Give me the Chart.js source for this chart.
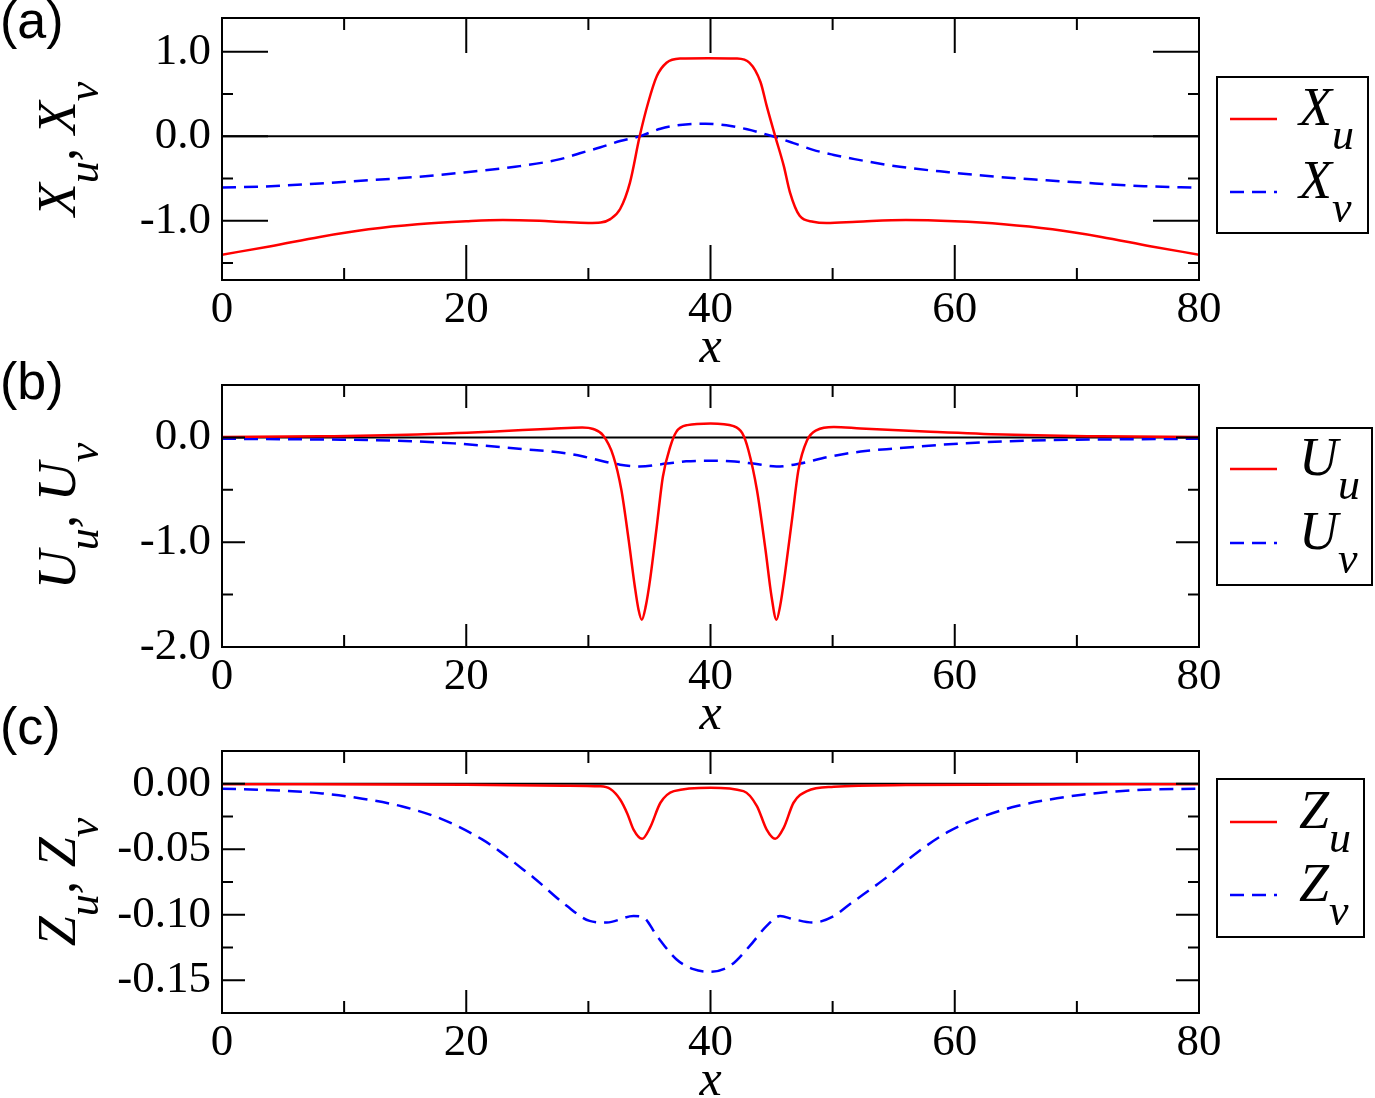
<!DOCTYPE html>
<html>
<head>
<meta charset="utf-8">
<script src="https://cdn.jsdelivr.net/npm/chart.js@4.4.1/dist/chart.umd.min.js"></script>
<style>
  body { margin: 0; background: #fff; }
  #wrap { position: relative; width: 1375px; height: 1098px; overflow: hidden; }
  canvas { position: absolute; left: 0; }
  .tag { position: absolute; left: 0; font: 52px "Liberation Sans", Arial, sans-serif; color: #000; line-height: 1; }
</style>
</head>
<body>
<div id="wrap">
  <div class="tag" style="top:-6px">(a)</div>
  <div class="tag" style="top:355px">(b)</div>
  <div class="tag" style="top:700px">(c)</div>
  <canvas id="panelA" width="1375" height="365" style="top:0px"></canvas>
  <canvas id="panelB" width="1375" height="365" style="top:367px"></canvas>
  <canvas id="panelC" width="1375" height="365" style="top:733px"></canvas>
</div>
<script>
// eje x común
const xTicks = [0, 20, 40, 60, 80];
const xMinor = [10, 30, 50, 70];
const zeroX = [0, 80];
const zeroY = [0, 0];

// (a) X_u, X_v
const xPosXu = [0, 4, 8, 12, 16, 20, 23, 26, 28, 30, 31, 31.8, 32.6, 33.4, 34.2, 34.9, 35.6, 36.4, 37.5, 39.8,
                42.1, 43.2, 44.1, 44.6, 45.3, 46.0, 46.5, 47.3, 48.4, 49.5, 52, 56, 60, 64, 68, 72, 76, 80];
const valXu  = [-1.40, -1.30, -1.19, -1.10, -1.04, -1.005, -0.99, -1.00, -1.015, -1.025, -1.02, -0.98, -0.86, -0.55, 0.0, 0.40, 0.71, 0.87, 0.92, 0.925,
                0.92, 0.87, 0.64, 0.36, 0.0, -0.35, -0.66, -0.94, -1.01, -1.025, -1.01, -0.99, -1.005, -1.04, -1.10, -1.19, -1.30, -1.40];
const xPosXv = [0, 4, 8, 12, 16, 20, 24, 27.7, 29.3, 31, 32.6, 34.2, 35.9, 37.5, 39.6, 41.3, 43, 45.1,
                46.8, 48.4, 50.1, 51.8, 55.5, 59.5, 63.5, 67.5, 71.5, 75.5, 80];
const valXv  = [-0.607, -0.59, -0.557, -0.52, -0.48, -0.425, -0.36, -0.27, -0.20, -0.13, -0.056, 0.0, 0.09, 0.134, 0.15, 0.13, 0.083, 0.0,
                -0.08, -0.16, -0.22, -0.27, -0.36, -0.425, -0.48, -0.52, -0.557, -0.59, -0.607];
const yTicksA = [-1, 0, 1];
const yMinorA = [-1.5, -0.5, 0.5];

// (b) U_u, U_v
const xPosUu = [0, 8, 16, 22, 27, 29.5, 30.4, 31.2, 32.05, 32.7, 33.3, 33.8, 34.1, 34.37, 34.7, 35.05, 35.6, 36.1, 36.7, 37.2, 38.1, 40.0,
                41.9, 42.6, 43.1, 43.8, 44.5, 45.0, 45.4, 45.7, 46.1, 46.7, 47.2, 47.9, 48.7, 50.1, 52.3, 58, 64, 72, 80];
const valUu  = [0.005, 0.01, 0.028, 0.055, 0.083, 0.095, 0.08, 0.02, -0.18, -0.50, -0.98, -1.42, -1.64, -1.74, -1.61, -1.36, -0.85, -0.375, -0.09, 0.053, 0.117, 0.133,
                0.107, 0.04, -0.12, -0.50, -1.07, -1.52, -1.74, -1.61, -1.30, -0.76, -0.31, -0.03, 0.07, 0.10, 0.086, 0.055, 0.028, 0.01, 0.005];
const xPosUv = [0, 8, 14, 19, 24.6, 27.7, 29.5, 30.4, 32.6, 34.2, 36.4, 38, 40, 42, 43.5, 45.4, 47.3, 49.5, 52.3, 55.2, 60.6, 66, 72, 80];
const valUv  = [-0.013, -0.02, -0.03, -0.057, -0.112, -0.145, -0.18, -0.205, -0.26, -0.278, -0.25, -0.228, -0.223, -0.23, -0.25, -0.278, -0.25, -0.19, -0.135, -0.105, -0.057, -0.03, -0.02, -0.013];
const yTicksB = [-2, -1, 0];
const yMinorB = [-1.5, -0.5];

// (c) Z_u, Z_v
const xPosZu = [0, 20, 28, 31.0, 31.8, 32.6, 33.2, 33.7, 34.4, 35.05, 35.9, 37.0, 40,
                42.7, 43.8, 44.6, 45.3, 46.0, 46.8, 47.9, 50.1, 56, 80];
const valZu  = [-0.0003, -0.0008, -0.0015, -0.002, -0.004, -0.012, -0.023, -0.035, -0.042, -0.0335, -0.0145, -0.0056, -0.003,
                -0.0056, -0.017, -0.035, -0.042, -0.0335, -0.0145, -0.0056, -0.0023, -0.001, -0.0003];
const xPosZv = [0, 4.1, 8.2, 11.5, 14.7, 18, 21.3, 22.8, 24.6, 25.5, 28.2, 30.1, 31.5, 33.7, 34.5, 35.6, 37.2, 38.6, 40, 41.6, 43.2,
                44.6, 45.7, 46.8, 48.4, 50.1, 51.4, 54.2, 56.9, 59.6, 62.4, 65.1, 67.8, 70.6, 74.7, 80];
const valZv  = [-0.0038, -0.0049, -0.0074, -0.0114, -0.0172, -0.027, -0.0425, -0.052, -0.065, -0.0715, -0.093, -0.1047, -0.106, -0.101, -0.102, -0.116, -0.134, -0.1415, -0.1435, -0.139, -0.124,
                -0.1085, -0.101, -0.1034, -0.106, -0.101, -0.092, -0.073, -0.0526, -0.036, -0.0247, -0.017, -0.012, -0.0082, -0.0049, -0.0038];
const yTicksC = [-0.15, -0.10, -0.05, 0];
const yMinorC = [-0.175, -0.125, -0.075, -0.025];

const SERIF = '"Liberation Serif", serif';
Chart.defaults.font.family = SERIF;
Chart.defaults.color = '#000';

function pts(xs, ys) {
    return xs.map((v, i) => ({ x: v, y: ys[i] }));
}

// marco, marcas hacia dentro, títulos con subíndices y leyenda
const xmgrace = {
    id: 'xmgrace',
    afterDraw(chart, args, o) {
        const { ctx, chartArea: a, scales: { x, y } } = chart;
        ctx.save();
        ctx.strokeStyle = '#000';
        ctx.lineWidth = 2;
        ctx.setLineDash([]);
        ctx.strokeRect(a.left, a.top, a.right - a.left, a.bottom - a.top);

        ctx.beginPath();
        const vTick = (v, len) => {
            const p = x.getPixelForValue(v);
            ctx.moveTo(p, a.bottom); ctx.lineTo(p, a.bottom - len);
            ctx.moveTo(p, a.top); ctx.lineTo(p, a.top + len);
        };
        const hTick = (v, len) => {
            const p = y.getPixelForValue(v);
            ctx.moveTo(a.left, p); ctx.lineTo(a.left + len, p);
            ctx.moveTo(a.right, p); ctx.lineTo(a.right - len, p);
        };
        xTicks.forEach(v => vTick(v, o.majorX));
        xMinor.forEach(v => vTick(v, 12));
        o.yTicks.forEach(v => hTick(v, o.majorY));
        o.yMinor.forEach(v => hTick(v, 11));
        ctx.stroke();

        ctx.fillStyle = '#000';
        // título eje x
        ctx.font = 'italic 50px ' + SERIF;
        ctx.textAlign = 'center';
        ctx.textBaseline = 'alphabetic';
        ctx.fillText('x', x.getPixelForValue(40), 362);

        // título eje y (girado)
        const L = o.letter;
        const parts = [[L, 0, 54], ['u', 23, 44], [', ', 0, 54], [L, 0, 54], ['v', 23, 44]];
        ctx.textAlign = 'left';
        let total = 0;
        parts.forEach(p => { ctx.font = 'italic ' + p[2] + 'px ' + SERIF; total += ctx.measureText(p[0]).width; });
        ctx.translate(75, (a.top + a.bottom) / 2);
        ctx.rotate(-Math.PI / 2);
        let cx = -total / 2;
        parts.forEach(p => {
            ctx.font = 'italic ' + p[2] + 'px ' + SERIF;
            ctx.fillText(p[0], cx, p[1]);
            cx += ctx.measureText(p[0]).width;
        });
        ctx.setTransform(1, 0, 0, 1, 0, 0);

        // leyenda
        const b = o.box;
        ctx.lineWidth = 2;
        ctx.strokeRect(b.left, b.top, b.width, b.height);
        const entries = [['u', '#ff0000', []], ['v', '#0000ff', [14, 8]]];
        entries.forEach((e, i) => {
            const ly = b.top + b.rows[i];
            ctx.strokeStyle = e[1];
            ctx.lineWidth = 2.5;
            ctx.setLineDash(e[2]);
            ctx.beginPath();
            ctx.moveTo(b.left + 13, ly);
            ctx.lineTo(b.left + 60, ly);
            ctx.stroke();
            ctx.setLineDash([]);
            ctx.font = 'italic 54px ' + SERIF;
            ctx.fillText(L, b.left + 82, ly + 6);
            const w = ctx.measureText(L).width;
            ctx.font = 'italic 44px ' + SERIF;
            ctx.fillText(e[0], b.left + 82 + w, ly + 30);
        });
        ctx.restore();
    }
};

function crearPanel(id, s1, s2, yMin, yMax, yTicks, yMinor, dec, opts) {
    const ctx = document.getElementById(id);
    return new Chart(ctx, {
        type: 'line',
        data: {
            datasets: [{
                data: s1,
                borderColor: '#ff0000',
                borderWidth: 2.5,
                pointRadius: 0,
                cubicInterpolationMode: 'monotone'
            }, {
                data: s2,
                borderColor: '#0000ff',
                borderWidth: 2.5,
                borderDash: [14, 8],
                pointRadius: 0,
                cubicInterpolationMode: 'monotone'
            }, {
                data: pts(zeroX, zeroY),
                borderColor: '#000',
                borderWidth: 2,
                pointRadius: 0
            }]
        },
        options: {
            responsive: false,
            animation: false,
            devicePixelRatio: 1,
            layout: { padding: { left: 0, right: 176, top: 18, bottom: 0 } },
            plugins: {
                legend: { display: false },
                tooltip: { enabled: false },
                xmgrace: Object.assign({ yTicks: yTicks, yMinor: yMinor }, opts)
            },
            scales: {
                x: {
                    type: 'linear',
                    min: 0,
                    max: 80,
                    afterBuildTicks: s => { s.ticks = xTicks.map(v => ({ value: v })); },
                    afterFit: s => { s.height = 85; s.paddingLeft = 0; s.paddingRight = 0; },
                    grid: { display: false, drawTicks: false },
                    border: { display: false },
                    ticks: {
                        color: '#000',
                        padding: 3,
                        maxRotation: 0,
                        autoSkip: false,
                        font: { family: SERIF, size: 45 },
                        callback: v => String(v)
                    }
                },
                y: {
                    type: 'linear',
                    min: yMin,
                    max: yMax,
                    afterBuildTicks: s => { s.ticks = yTicks.map(v => ({ value: v })); },
                    afterFit: s => { s.width = 222; s.paddingTop = 0; s.paddingBottom = 0; },
                    grid: { display: false, drawTicks: false },
                    border: { display: false },
                    ticks: {
                        color: '#000',
                        padding: 11,
                        autoSkip: false,
                        font: { family: SERIF, size: 45 },
                        callback: v => (Math.abs(v) < 1e-9 ? 0 : v).toFixed(dec)
                    }
                }
            }
        },
        plugins: [xmgrace]
    });
}

crearPanel('panelA', pts(xPosXu, valXu), pts(xPosXv, valXv), -1.7, 1.4, yTicksA, yMinorA, 1,
    { majorX: 35, majorY: 46, letter: 'X', box: { left: 1217, top: 77, width: 151, height: 156, rows: [42, 115] } });
crearPanel('panelB', pts(xPosUu, valUu), pts(xPosUv, valUv), -2.0, 0.5, yTicksB, yMinorB, 1,
    { majorX: 23, majorY: 23, letter: 'U', box: { left: 1217, top: 61, width: 155, height: 157, rows: [41, 115] } });
crearPanel('panelC', pts(xPosZu, valZu), pts(xPosZv, valZv), -0.175, 0.025, yTicksC, yMinorC, 2,
    { majorX: 23, majorY: 23, letter: 'Z', box: { left: 1217, top: 46, width: 147, height: 158, rows: [43, 116] } });
</script>
</body>
</html>
